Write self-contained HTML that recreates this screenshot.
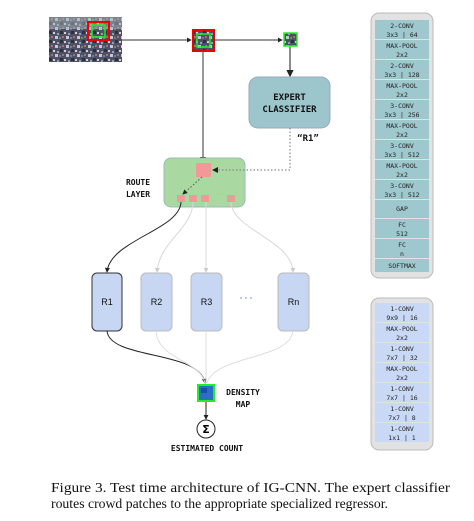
<!DOCTYPE html>
<html><head><meta charset="utf-8"><style>
html,body{margin:0;padding:0;background:#fff;width:474px;height:521px;overflow:hidden}
svg{display:block}
.m{font-family:"DejaVu Sans Mono","Liberation Mono",monospace;font-weight:bold}
</style></head><body>
<svg width="474" height="521" viewBox="0 0 474 521" xmlns="http://www.w3.org/2000/svg">
<defs>
<marker id="ah" viewBox="0 0 6 6" refX="5" refY="3" markerWidth="5" markerHeight="5" orient="auto"><path d="M0,0L6,3L0,6z" fill="#222"/></marker>
<marker id="ahg" viewBox="0 0 6 6" refX="5" refY="3" markerWidth="5" markerHeight="5" orient="auto"><path d="M0,0L6,3L0,6z" fill="#ccc"/></marker>
<pattern id="crowd" width="11" height="9" patternUnits="userSpaceOnUse">
<rect width="11" height="9" fill="#4e5068"/><rect x="0" y="0" width="3" height="3" fill="#c9c4d6"/><rect x="5" y="4" width="3" height="3" fill="#2d3040"/><rect x="2" y="6" width="2" height="2" fill="#8fa0b8"/><rect x="7" y="0" width="2" height="2" fill="#b06a70"/><rect x="9" y="5" width="2" height="2" fill="#d8d0c0"/><rect x="4" y="1" width="2" height="2" fill="#6a8a70"/>
</pattern>
</defs>
<rect x="49" y="17" width="73" height="45" fill="url(#crowd)"/>
<rect x="49" y="17" width="73" height="12" fill="#a8b4b8" opacity="0.5"/>
<rect x="88" y="22" width="21" height="18" fill="none" stroke="#e00" stroke-width="2"/>
<rect x="92" y="25" width="13" height="12" fill="none" stroke="#2e2" stroke-width="1.5"/>
<line x1="122" y1="40" x2="191" y2="40" stroke="#333" stroke-width="1" marker-end="url(#ah)"/>
<rect x="193" y="30" width="21" height="21" fill="url(#crowd)" stroke="#e00" stroke-width="2"/>
<rect x="197" y="34" width="13" height="13" fill="none" stroke="#2e2" stroke-width="1.5"/>
<line x1="214" y1="40" x2="282" y2="40" stroke="#333" stroke-width="1" marker-end="url(#ah)"/>
<rect x="284" y="33" width="13" height="13" fill="url(#crowd)" stroke="#2e2" stroke-width="1.5"/>
<line x1="290" y1="47" x2="290" y2="76" stroke="#666" stroke-width="1.5" marker-end="url(#ah)"/>
<line x1="203" y1="51" x2="203" y2="162" stroke="#555" stroke-width="1.2" marker-end="url(#ah)"/>
<rect x="249" y="77" width="81" height="51" rx="9" fill="#9cc6cb" stroke="#9ab" stroke-width="1"/>
<text class="m" x="289.5" y="100" font-size="9" text-anchor="middle" fill="#111">EXPERT</text>
<text class="m" x="289.5" y="112" font-size="9" text-anchor="middle" fill="#111">CLASSIFIER</text>
<text class="m" x="308" y="141" font-size="9" text-anchor="middle" fill="#111">“R1”</text>
<rect x="164" y="158" width="81" height="49" rx="7" fill="#a9d9a1" stroke="#9bb" stroke-width="1"/>
<polyline points="290,128 290,170 213,170" fill="none" stroke="#888" stroke-width="1.2" stroke-dasharray="1.5,2" marker-end="url(#ah)"/>
<rect x="196" y="163" width="15" height="14" fill="#f29898"/>
<line x1="202" y1="177" x2="183" y2="194" stroke="#555" stroke-width="1" stroke-dasharray="1.5,2" marker-end="url(#ah)"/>
<rect x="177" y="195" width="8" height="7" fill="#f29898"/>
<rect x="189" y="195" width="8" height="7" fill="#f29898"/>
<rect x="201" y="195" width="8" height="7" fill="#f29898"/>
<rect x="227" y="195" width="8" height="7" fill="#f29898"/>
<text x="218" y="195" font-size="7" fill="#f29898" font-family="Liberation Sans">…</text>
<text class="m" x="138" y="185" font-size="8" text-anchor="middle" fill="#111">ROUTE</text>
<text class="m" x="138" y="197" font-size="8" text-anchor="middle" fill="#111">LAYER</text>
<path d="M181,202 C180,230 110,240 107,272" fill="none" stroke="#222" stroke-width="1" marker-end="url(#ah)"/>
<path d="M193,202 C192,230 160,240 157,272" fill="none" stroke="#d8d8d8" stroke-width="1" marker-end="url(#ahg)"/>
<line x1="206" y1="202" x2="206" y2="272" stroke="#d8d8d8" stroke-width="1" marker-end="url(#ahg)"/>
<path d="M231,202 C232,230 292,240 293,272" fill="none" stroke="#d8d8d8" stroke-width="1" marker-end="url(#ahg)"/>
<rect x="92" y="273" width="30" height="58" rx="5" fill="#c6d6f3" stroke="#333" stroke-width="1"/>
<rect x="141" y="273" width="31" height="58" rx="5" fill="#c6d6f3" stroke="#bbb" stroke-width="1"/>
<rect x="191" y="273" width="31" height="58" rx="5" fill="#c6d6f3" stroke="#bbb" stroke-width="1"/>
<rect x="278" y="273" width="31" height="58" rx="5" fill="#c6d6f3" stroke="#bbb" stroke-width="1"/>
<g font-family="Liberation Sans,sans-serif" font-size="9" text-anchor="middle" fill="#111">
<text x="107" y="305">R1</text><text x="156.5" y="305">R2</text><text x="206.5" y="305">R3</text><text x="293.5" y="305">Rn</text></g>
<g fill="#b8cdf0"><rect x="240" y="297" width="2" height="2"/><rect x="245" y="297" width="2" height="2"/><rect x="250" y="297" width="2" height="2"/></g>
<path d="M107,331 C110,360 200,350 205,383" fill="none" stroke="#222" stroke-width="1" marker-end="url(#ah)"/>
<path d="M156,331 C158,360 200,360 205,383" fill="none" stroke="#ddd" stroke-width="1"/>
<line x1="206" y1="331" x2="206" y2="383" stroke="#ddd" stroke-width="1"/>
<path d="M293,331 C290,360 215,355 207,383" fill="none" stroke="#ddd" stroke-width="1"/>
<rect x="198" y="385" width="16" height="16" fill="#2b6fc0" stroke="#2e2" stroke-width="2"/>
<rect x="201" y="388" width="6" height="5" fill="#1d4fa0"/>
<text class="m" x="243" y="395" font-size="8" text-anchor="middle" fill="#111">DENSITY</text>
<text class="m" x="243" y="407" font-size="8" text-anchor="middle" fill="#111">MAP</text>
<line x1="206" y1="402" x2="206" y2="419" stroke="#222" stroke-width="1" marker-end="url(#ah)"/>
<circle cx="206" cy="429" r="9" fill="#fff" stroke="#222" stroke-width="1"/>
<text x="206" y="433" font-size="11" font-weight="bold" text-anchor="middle" font-family="DejaVu Sans">Σ</text>
<text class="m" x="207" y="451" font-size="8" text-anchor="middle" fill="#111">ESTIMATED COUNT</text>
<rect x="371" y="13" width="62" height="265" rx="8" fill="#e2e2e2" stroke="#bbb" stroke-width="1"/>
<g font-family="DejaVu Sans Mono,monospace" font-size="6.5" text-anchor="middle" fill="#222">
<rect x="375" y="20" width="54" height="19" fill="#9ec8cd"/><text x="402" y="28">2-CONV</text><text x="402" y="37">3x3 | 64</text>
<rect x="375" y="40" width="54" height="19" fill="#9ec8cd"/><text x="402" y="48">MAX-POOL</text><text x="402" y="57">2x2</text>
<rect x="375" y="60" width="54" height="19" fill="#9ec8cd"/><text x="402" y="68">2-CONV</text><text x="402" y="77">3x3 | 128</text>
<rect x="375" y="80" width="54" height="19" fill="#9ec8cd"/><text x="402" y="88">MAX-POOL</text><text x="402" y="97">2x2</text>
<rect x="375" y="100" width="54" height="19" fill="#9ec8cd"/><text x="402" y="108">3-CONV</text><text x="402" y="117">3x3 | 256</text>
<rect x="375" y="120" width="54" height="19" fill="#9ec8cd"/><text x="402" y="128">MAX-POOL</text><text x="402" y="137">2x2</text>
<rect x="375" y="140" width="54" height="19" fill="#9ec8cd"/><text x="402" y="148">3-CONV</text><text x="402" y="157">3x3 | 512</text>
<rect x="375" y="160" width="54" height="19" fill="#9ec8cd"/><text x="402" y="168">MAX-POOL</text><text x="402" y="177">2x2</text>
<rect x="375" y="180" width="54" height="19" fill="#9ec8cd"/><text x="402" y="188">3-CONV</text><text x="402" y="197">3x3 | 512</text>
<rect x="375" y="200" width="54" height="18" fill="#9ec8cd"/><text x="402" y="211">GAP</text>
<rect x="375" y="219" width="54" height="19" fill="#9ec8cd"/><text x="402" y="227">FC</text><text x="402" y="236">512</text>
<rect x="375" y="239" width="54" height="19" fill="#9ec8cd"/><text x="402" y="247">FC</text><text x="402" y="256">n</text>
<rect x="375" y="259" width="54" height="13" fill="#9ec8cd"/><text x="402" y="268">SOFTMAX</text>
</g>
<rect x="371" y="298" width="62" height="152" rx="8" fill="#e2e2e2" stroke="#bbb" stroke-width="1"/>
<g font-family="DejaVu Sans Mono,monospace" font-size="6.5" text-anchor="middle" fill="#222">
<rect x="375" y="303" width="54" height="19" fill="#c9d9f5"/><text x="402" y="311">1-CONV</text><text x="402" y="320">9x9 | 16</text>
<rect x="375" y="323" width="54" height="19" fill="#c9d9f5"/><text x="402" y="331">MAX-POOL</text><text x="402" y="340">2x2</text>
<rect x="375" y="343" width="54" height="19" fill="#c9d9f5"/><text x="402" y="351">1-CONV</text><text x="402" y="360">7x7 | 32</text>
<rect x="375" y="363" width="54" height="19" fill="#c9d9f5"/><text x="402" y="371">MAX-POOL</text><text x="402" y="380">2x2</text>
<rect x="375" y="383" width="54" height="19" fill="#c9d9f5"/><text x="402" y="391">1-CONV</text><text x="402" y="400">7x7 | 16</text>
<rect x="375" y="403" width="54" height="19" fill="#c9d9f5"/><text x="402" y="411">1-CONV</text><text x="402" y="420">7x7 | 8</text>
<rect x="375" y="423" width="54" height="19" fill="#c9d9f5"/><text x="402" y="431">1-CONV</text><text x="402" y="440">1x1 | 1</text>
</g>
<g font-family="Liberation Serif,serif" font-size="13.5" fill="#111">
<text x="51" y="492" textLength="399" lengthAdjust="spacingAndGlyphs">Figure 3. Test time architecture of IG-CNN. The expert classifier</text>
<text x="51" y="508" textLength="337" lengthAdjust="spacingAndGlyphs">routes crowd patches to the appropriate specialized regressor.</text>
</g>
</svg>
</body></html>
